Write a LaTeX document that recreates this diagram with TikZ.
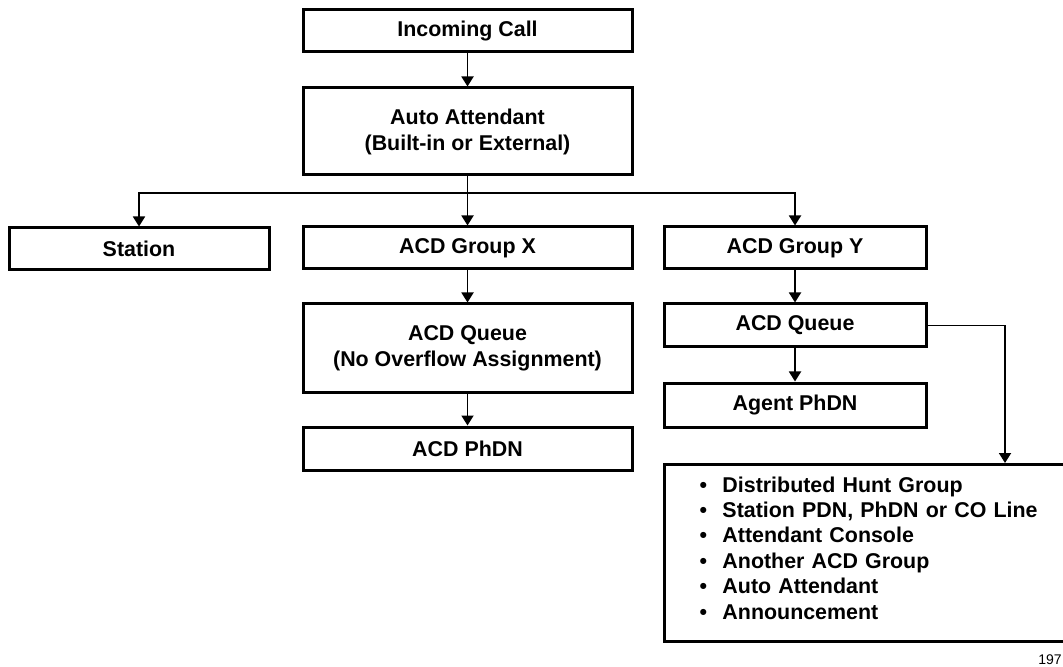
\documentclass[tikz,border=0pt]{standalone}
\usepackage{fontspec}
\setsansfont{Liberation Sans}
\usetikzlibrary{arrows.meta}

\begin{document}
\begin{tikzpicture}[
        x=0.5pt, y=-0.5pt,
        font=\sffamily\bfseries\fontsize{10.7}{13}\selectfont,
        box/.style={rectangle, draw, line width=1.5pt, inner sep=0pt, align=center},
        arr/.style={line width=0.9pt, -{Triangle[length=5pt,width=6pt]}}
    ]
        \useasboundingbox (0,0) rectangle (1063,667);
        \clip (0,0) rectangle (1063,667);

        % top of the tree
        \node[box, minimum width=164.5pt, minimum height=21pt] (call) at (467.5,31) {Incoming Call};
        \node[box, minimum width=164.5pt, minimum height=43.5pt] (auto) at (467.5,131.5)
            {Auto Attendant\\(Built-in or External)};

        % first level
        \node[box, minimum width=130pt, minimum height=21pt] (station) at (139,249) {Station};
        \node[box, minimum width=164.5pt, minimum height=21pt] (grpx) at (467.5,248) {ACD Group X};
        \node[box, minimum width=131pt, minimum height=21pt] (grpy) at (795,248) {ACD Group Y};

        % group X branch
        \node[box, minimum width=164.5pt, minimum height=44pt] (qx) at (467.5,348)
            {ACD Queue\\(No Overflow Assignment)};
        \node[box, minimum width=164.5pt, minimum height=21.5pt] (phdn) at (467.5,448.5) {ACD PhDN};

        % group Y branch
        \node[box, minimum width=131pt, minimum height=21.5pt] (qy) at (795,325.5) {ACD Queue};
        \node[box, minimum width=131pt, minimum height=22pt] (agent) at (795,405) {Agent PhDN};
        \node[
            box,
            anchor=north west,
            align=left,
            inner xsep=17.5pt,
            text width=173.5pt,
            minimum height=88.5pt,
            font=\sffamily\bfseries\fontsize{10.7}{12.7}\selectfont
        ] (overflow) at (663,463) {
            \makebox[11.5pt][l]{\textbullet}Distributed Hunt Group\\
            \makebox[11.5pt][l]{\textbullet}Station PDN, PhDN or CO Line\\
            \makebox[11.5pt][l]{\textbullet}Attendant Console\\
            \makebox[11.5pt][l]{\textbullet}Another ACD Group\\
            \makebox[11.5pt][l]{\textbullet}Auto Attendant\\
            \makebox[11.5pt][l]{\textbullet}Announcement\par\kern5pt
        };

        \node[anchor=east, inner sep=0pt, font=\sffamily\fontsize{7}{8}\selectfont] (fignum) at (1062,660) {197};

        % connectors
        \coordinate (split) at (467.5,193);
        \coordinate (bend) at (1005,325.5);
        \draw[arr] (call) -- (auto);
        \draw[line width=0.9pt] (auto) -- (split);
        \draw[arr] (split) -| (station.north);
        \draw[arr] (split) -- (grpx);
        \draw[arr] (split) -| (grpy.north);
        \draw[arr] (grpx) -- (qx);
        \draw[arr] (qx) -- (phdn);
        \draw[arr] (grpy) -- (qy);
        \draw[arr] (qy) -- (agent);
        \draw[arr] (qy.east) -- (bend) -- (bend |- overflow.north);
    \end{tikzpicture}
\end{document}
